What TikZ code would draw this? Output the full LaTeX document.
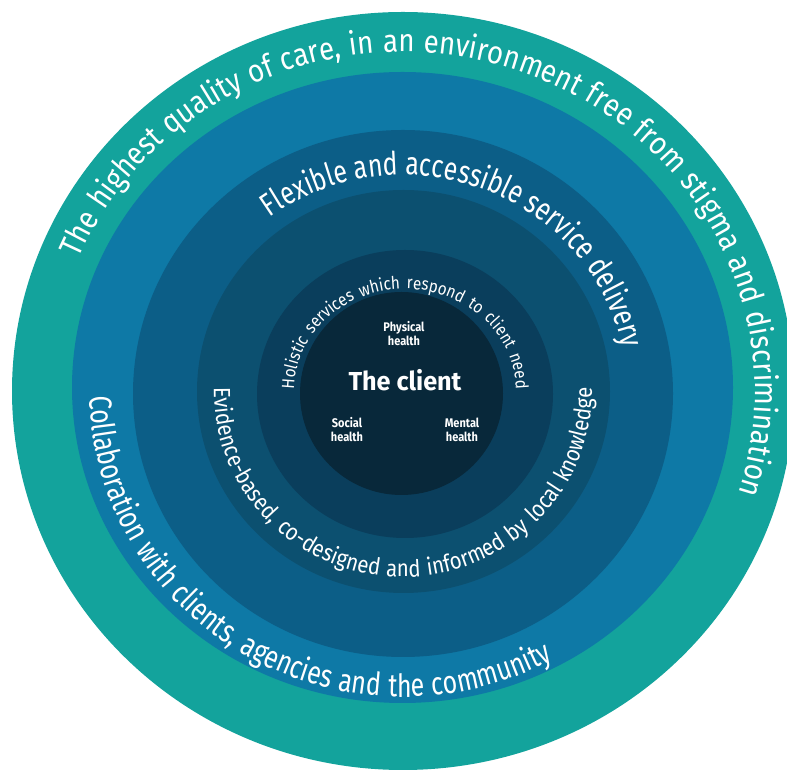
\documentclass[tikz,border=0pt]{standalone}
\usepackage{fontspec}
\setmainfont{Fira Sans}
\newfontfamily\widering[FakeStretch=0.87]{Fira Sans}
\newfontfamily\narrowring[FakeStretch=0.78]{Fira Sans}
\newfontfamily\labelfont[FakeStretch=0.88]{Fira Sans}
\newfontfamily\clientfont[FakeStretch=0.97]{Fira Sans}
\usetikzlibrary{decorations.text,calc}

\definecolor{ringteal}{HTML}{13A39C}
\definecolor{ringblue}{HTML}{0E79A6}
\definecolor{ringmid}{HTML}{0C5E87}
\definecolor{ringdeep}{HTML}{0C5070}
\definecolor{ringdark}{HTML}{0A3E5C}
\definecolor{corefill}{HTML}{08283A}

\tikzset{
  ringtext/.style={decorate,
    decoration={text along path, text align={fit to path stretching spaces}}},
  centrelabel/.style={text=white, align=center, inner sep=0pt,
    font=\labelfont\bfseries\fontsize{12.5}{14}\selectfont},
}

\begin{document}
\begin{tikzpicture}[x=1pt,y=1pt]
\useasboundingbox (0,0) rectangle (787,773);
\clip (0,0) rectangle (787,773);

% centres of the nested discs
\coordinate (c1) at (403,382);
\coordinate (c2) at (402.5,385.5);
\coordinate (c3) at (403,379.5);
\coordinate (c4) at (403.5,381.5);
\coordinate (c5) at (405,379);
\coordinate (c6) at (401.5,379.5);
% centres of the lettering arcs
\coordinate (tc) at (403,382);
\coordinate (hc) at (405,382);

% nested discs, outermost first
\fill[ringteal] (c1) ellipse [x radius=391pt, y radius=379pt];
\fill[ringblue] (c2) ellipse [x radius=330.5pt, y radius=315.5pt];
\fill[ringmid]  (c3) ellipse [x radius=270pt, y radius=263.5pt];
\fill[ringdeep] (c4) ellipse [x radius=206.5pt, y radius=201.5pt];
\fill[ringdark] (c5) ellipse [x radius=148pt, y radius=144pt];
\fill[corefill] (c6) ellipse [x radius=101.5pt, y radius=101.5pt];

% outer ring, over the top
\path[ringtext, decoration={text={|\widering\fontsize{31.8}{31.8}\selectfont\color{white}|The highest quality of care, in an environment free from stigma and discrimination}}]
  ($(tc)+(157:352pt and 339pt)$) arc[start angle=157, end angle=-17.5, x radius=352pt, y radius=339pt];

% second ring, along the bottom
\path[ringtext, decoration={text={|\narrowring\fontsize{32}{32}\selectfont\color{white}|Collaboration with clients, agencies and the community}}]
  ($(tc)+(181:313pt and 306pt)$) arc[start angle=181, end angle=298.7, x radius=313pt, y radius=306pt];

% third ring, over the top
\path[ringtext, decoration={text={|\narrowring\fontsize{32}{32}\selectfont\color{white}|Flexible and accessible service delivery}}]
  ($(tc)+(126.5:224pt and 216pt)$) arc[start angle=126.5, end angle=12, x radius=224pt, y radius=216pt];

% fourth ring, along the bottom
\path[ringtext, decoration={text={|\widering\fontsize{23.5}{23.5}\selectfont\color{white}|Evidence-based, co-designed and informed by local knowledge}}]
  ($(tc)+(179:189pt and 186pt)$) arc[start angle=179, end angle=361, x radius=189pt, y radius=186pt];

% fifth ring, over the top
\path[ringtext, decoration={text={|\widering\fontsize{17.5}{17.5}\selectfont\color{white}|Holistic services which respond to client need}}]
  ($(hc)+(179:111pt and 102pt)$) arc[start angle=179, end angle=1, x radius=111pt, y radius=102pt];

% the core
\node[text=white, inner sep=0pt, font=\clientfont\bfseries\fontsize{26}{26}\selectfont] (client) at (405,393) {The client};
\node[centrelabel] (physical) at (404,439) {Physical\\health};
\node[centrelabel] (social) at (347,343) {Social\\health};
\node[centrelabel] (mental) at (462,343) {Mental\\health};
\end{tikzpicture}
\end{document}
